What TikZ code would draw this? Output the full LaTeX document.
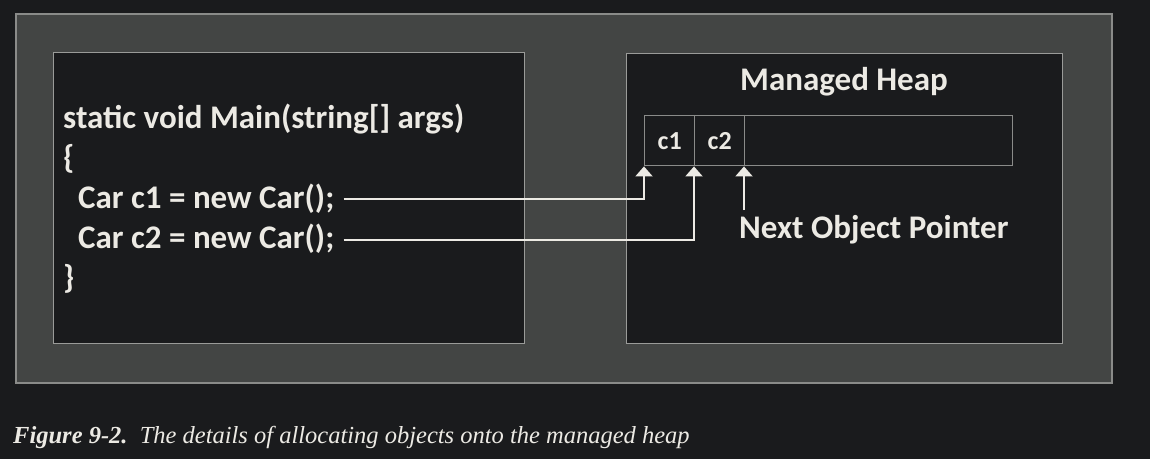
\documentclass[tikz,border=0pt]{standalone}
\usepackage{fontspec}
\setmainfont{Carlito}
\newfontfamily\capfont{Liberation Serif}
\usetikzlibrary{arrows.meta}
\definecolor{bgc}{HTML}{1A1B1D}
\definecolor{outerfill}{HTML}{434544}
\definecolor{outerline}{HTML}{8A8B89}
\definecolor{innerline}{HTML}{9A9B99}
\definecolor{txt}{HTML}{ECEAE4}
\tikzset{
  panel/.style={draw=innerline, line width=1.4pt, fill=bgc},
  code/.style={anchor=base west, inner sep=0pt, text=txt, font=\fontsize{33}{33}\selectfont\bfseries},
  cell/.style={draw=outerline, line width=1.4pt, minimum height=50pt, inner sep=0pt, text=txt, font=\fontsize{26}{26}\selectfont\bfseries},
  ptr/.style={draw=txt, line width=2pt, -{Triangle[width=17pt,length=10pt]}},
}
\begin{document}
\begin{tikzpicture}[x=1pt,y=-1pt]
\useasboundingbox[fill=bgc] (0,0) rectangle (1150,459);
\draw[draw=outerline, line width=2pt, fill=outerfill] (16,14) rectangle (1112,383);
\node[panel, minimum width=471pt, minimum height=291pt, anchor=north west] (codebox) at (53,52) {};
\node[panel, minimum width=436pt, minimum height=290pt, anchor=north west] (heapbox) at (626,53) {};
% code
\node[code] (l1) at (63,128) {static void Main(string[] args)};
\node[code] (l2) at (63,168) {\{};
\node[code] (l3) at (78,208) {Car c1 = new Car();};
\node[code] (l4) at (78,248) {Car c2 = new Car();};
\node[code] (l5) at (63,288) {\}};
% heap
\node[code, anchor=base] (title) at (844,90) {Managed Heap};
\node[cell, minimum width=50pt, anchor=north west] (ca) at (644,115) {c1};
\node[cell, minimum width=50pt, anchor=north west] (cb) at (694,115) {c2};
\node[cell, minimum width=268pt, anchor=north west] (cf) at (744,115) {};
\node[code] (np) at (739,238) {Next Object Pointer};
\coordinate (npfoot) at (744,210);
% connectors
\draw[ptr] ([xshift=9pt,yshift=9pt]l3.base east) -| (ca.south west);
\draw[ptr] ([xshift=9pt,yshift=8pt]l4.base east) -| (cb.south west);
\draw[ptr] (npfoot) -- (cf.south west);
% caption
\node[anchor=base west, inner sep=0pt, text=txt, font=\capfont\fontsize{24.5}{24.5}\selectfont\itshape] (cap) at (13,443) {\textbf{Figure 9-2.}\ \ The details of allocating objects onto the managed heap};
\end{tikzpicture}
\end{document}
